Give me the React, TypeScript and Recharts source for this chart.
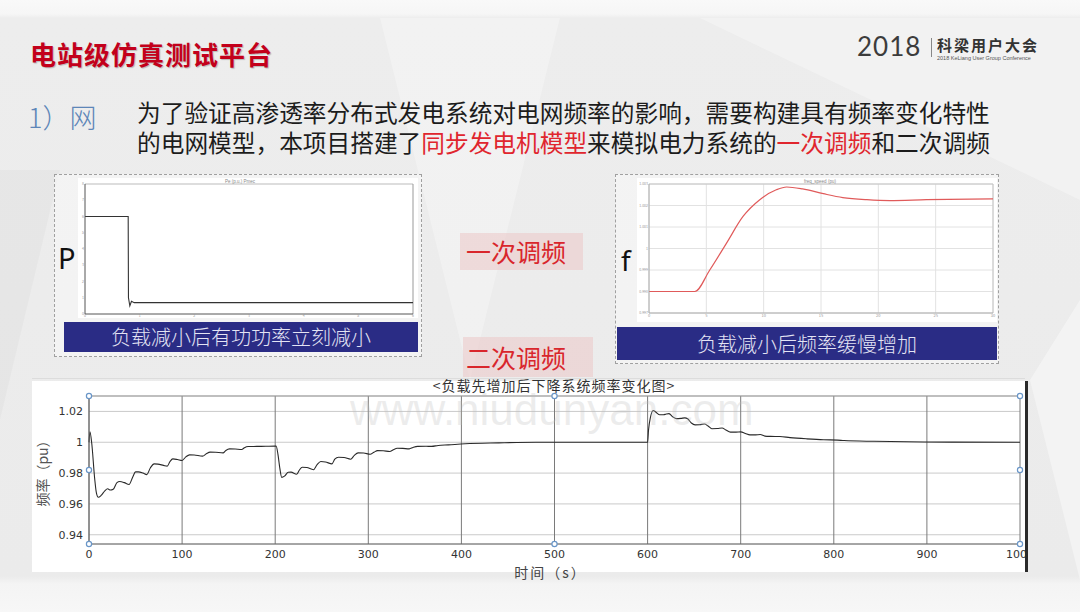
import React from 'react';
import { LineChart, Line, XAxis, YAxis, CartesianGrid, ReferenceLine, ReferenceDot } from 'recharts';

// ---- main chart: frequency (pu) vs time (s) ----
const timeA = [0, 1, 3, 6, 8, 10, 13, 17, 20, 23, 26, 30, 33, 38, 43, 47, 50, 53, 58, 62, 66, 70, 74, 80, 84, 87, 90, 95, 100, 104, 108, 113, 122, 126, 130, 136, 144, 147, 151, 157, 164, 167, 171, 180, 190, 200];
const freqA = [1.0, 1.0068, 0.999, 0.977, 0.967, 0.9643, 0.9655, 0.9685, 0.9698, 0.969, 0.9695, 0.9738, 0.9745, 0.9738, 0.9726, 0.9775, 0.9808, 0.9808, 0.98, 0.979, 0.9835, 0.986, 0.9858, 0.985, 0.9845, 0.9875, 0.9892, 0.9888, 0.9882, 0.9905, 0.9918, 0.9917, 0.991, 0.9925, 0.9936, 0.9935, 0.9931, 0.9947, 0.9957, 0.9956, 0.9953, 0.9965, 0.9972, 0.9973, 0.9974, 0.9975];
const timeB = [201, 203, 205, 207, 210, 214, 217, 223, 226, 229, 234, 241, 245, 249, 254, 261, 264, 268, 274, 281, 285, 289, 295, 302, 306, 310, 316, 323, 327, 331, 337, 344, 348, 353, 362, 368, 375, 386, 404, 440, 480, 600];
const freqB = [0.9975, 0.992, 0.983, 0.9772, 0.978, 0.9805, 0.9806, 0.9792, 0.982, 0.9838, 0.9836, 0.9822, 0.9855, 0.9875, 0.9872, 0.986, 0.989, 0.9903, 0.9901, 0.989, 0.9915, 0.9931, 0.993, 0.9922, 0.9935, 0.9946, 0.9945, 0.994, 0.9952, 0.9961, 0.996, 0.9957, 0.9966, 0.9973, 0.9974, 0.9973, 0.9979, 0.9983, 0.999, 0.9996, 1.0, 1.0];
const timeC = [601, 603, 606, 609, 613, 617, 620, 623, 627, 631, 636, 640, 643, 647, 651, 656, 661, 665, 669, 675, 680, 684, 689, 695, 700, 705, 710, 716, 721, 726, 732, 742, 753, 771, 789, 804, 811, 843, 897, 1000];
const freqC = [1.008, 1.016, 1.0206, 1.0195, 1.0178, 1.0178, 1.0183, 1.0186, 1.0165, 1.0153, 1.0155, 1.0158, 1.0152, 1.0125, 1.0113, 1.0114, 1.0118, 1.0105, 1.0088, 1.0089, 1.0092, 1.008, 1.0066, 1.0066, 1.0067, 1.0057, 1.0048, 1.0048, 1.005, 1.004, 1.0038, 1.0037, 1.003, 1.0022, 1.0016, 1.0014, 1.0011, 1.0006, 1.0002, 1.0];
const mainTicksX = [0, 100, 200, 300, 400, 500, 600, 700, 800, 900, 1000];
const mainTicksY = [0.94, 0.96, 0.98, 1, 1.02];
const mainDomainY = [0.934, 1.03];
const handleXs = [0, 500, 1000];
const handleYs = [1.03, 0.982, 0.934];

// ---- small chart P (active power) ----
const pTime = [0, 0.79, 0.795, 0.82, 0.85, 0.9, 6];
const pValue = [6, 6, 1.0, 0.5, 0.78, 0.7, 0.7];
const pTicksX = [0, 1, 2, 3, 4, 5, 6];
const pTicksY = [0, 1, 2, 3, 4, 5, 6, 7, 8];

// ---- small chart f (frequency) ----
const fTime = [0, 4, 5.3, 6.75, 8.2, 9.66, 11.1, 12, 13.4, 15.2, 16.9, 19, 21, 24.2, 30];
const fValue = [0.998, 0.998, 0.999, 1.00024, 1.00149, 1.00227, 1.00273, 1.00286, 1.00277, 1.00255, 1.00237, 1.00227, 1.00223, 1.00227, 1.00231];
const fTicksX = [0, 5, 10, 15, 20, 25, 30];
const fTicksY = [0.997, 0.998, 0.999, 1.0, 1.001, 1.002, 1.003];

const mainData = [...timeA.map((t, i) => ({ t, f: freqA[i] })), ...timeB.map((t, i) => ({ t, f: freqB[i] })), ...timeC.map((t, i) => ({ t, f: freqC[i] }))];
const pData = pTime.map((x, i) => ({ x, v: pValue[i] }));
const fData = fTime.map((x, i) => ({ x, v: fValue[i] }));

const handles: { x: number; y: number }[] = [];
handleXs.forEach((x) => handleYs.forEach((y) => { if (!(x === 500 && y === 0.982)) handles.push({ x, y }); }));

const CJK = '"Noto Sans CJK SC", "Noto Sans", sans-serif';
const abs = (l: number, t: number, extra: React.CSSProperties = {}): React.CSSProperties => ({ position: 'absolute', left: l, top: t, ...extra });

export default function App() {
  return (
    <div style={{ position: 'absolute', left: 0, top: 0, width: 1080, height: 612, overflow: 'hidden', fontFamily: CJK,
      background: 'linear-gradient(180deg, #f9f9f9 0px, #f6f6f6 14px, #ededed 18px, #ebebeb 576px, #f4f4f4 584px, #f7f7f7 612px)' }}>
      {/* background facets */}
      <div style={abs(0, 0, { width: 1080, height: 612, background: 'rgba(255,255,255,0.28)', clipPath: 'polygon(380px 18px, 560px 18px, 470px 380px)' })} />
      <div style={abs(0, 0, { width: 1080, height: 612, background: 'rgba(255,255,255,0.3)', clipPath: 'polygon(700px 18px, 1080px 18px, 1080px 200px)' })} />
      <div style={abs(0, 0, { width: 1080, height: 612, background: 'rgba(0,0,0,0.025)', clipPath: 'polygon(0px 170px, 60px 170px, 0px 420px)' })} />
      <div style={abs(0, 0, { width: 1080, height: 612, background: 'rgba(255,255,255,0.4)', clipPath: 'polygon(1030px 380px, 1080px 300px, 1080px 580px)' })} />

      {/* header */}
      <div style={abs(30, 38, { fontSize: 26, fontWeight: 700, color: '#c3001b', letterSpacing: 1, lineHeight: '32px', whiteSpace: 'nowrap', textShadow: '1px 1px 1px rgba(0,0,0,0.22)' })}>电站级仿真测试平台</div>
      <div style={abs(857, 32, { fontSize: 26, fontFamily: 'Lato, "Open Sans", sans-serif', fontWeight: 400, letterSpacing: 1, color: '#3c3c3c', lineHeight: '28px' })}>2018</div>
      <div style={abs(931, 38, { width: 1, height: 19, background: '#888' })} />
      <div style={abs(937, 37, { fontSize: 15, fontWeight: 700, letterSpacing: 2, color: '#333', lineHeight: '16px', whiteSpace: 'nowrap' })}>科梁用户大会</div>
      <div style={abs(937, 55, { fontSize: 5.5, color: '#555', lineHeight: '6px', whiteSpace: 'nowrap', fontFamily: '"Liberation Sans", sans-serif' })}>2018 KeLiang User Group Conference</div>

      <div style={abs(28, 101, { fontSize: 27, color: '#5d86b8', lineHeight: '32px', whiteSpace: 'nowrap', fontWeight: 300 })}>1）网</div>
      <div style={abs(137, 97, { fontSize: 23.7, color: '#1c1c1c', lineHeight: '30px', whiteSpace: 'nowrap' })}>
        <div style={{ height: 30 }}>为了验证高渗透率分布式发电系统对电网频率的影响，需要构建具有频率变化特性</div>
        <div style={{ height: 30 }}>的电网模型，本项目搭建了<span style={{ color: '#e0262e' }}>同步发电机模型</span>来模拟电力系统的<span style={{ color: '#e0262e' }}>一次调频</span>和二次调频</div>
      </div>

      {/* left small panel */}
      <div style={abs(54, 174, { width: 366, height: 181, border: '1px dashed #a0a0a0', background: 'rgba(248,248,248,0.6)' })} />
      <div style={abs(78, 178, { width: 340, height: 140, background: '#fff' })}>
        <LineChart width={340} height={140} data={pData} margin={{ top: 6, right: 5, bottom: 0, left: 0 }}>
          <XAxis dataKey="x" type="number" domain={[0, 6]} ticks={pTicksX} interval={0} height={4} tickSize={0} tickMargin={1}
            tick={{ fontSize: 3.5, fill: '#999' }} axisLine={{ stroke: '#555' }} />
          <YAxis type="number" domain={[0, 8]} ticks={pTicksY} interval={0} width={7} tickSize={0} tickMargin={1}
            tick={{ fontSize: 3.5, fill: '#999' }} axisLine={{ stroke: '#555' }} />
          <ReferenceLine y={8} stroke="#bbb" />
          <ReferenceLine x={6} stroke="#999" />
          <Line type="linear" dataKey="v" stroke="#333" strokeWidth={1.1} dot={false} isAnimationActive={false} />
        </LineChart>
      </div>
      <div style={abs(200, 179, { width: 80, textAlign: 'center', fontSize: 4.5, color: '#888', lineHeight: '5px', whiteSpace: 'nowrap', fontFamily: '"Liberation Sans", sans-serif' })}>Pe (p.u.) Pmec</div>
      <div style={abs(58, 240, { fontSize: 29, fontFamily: '"Noto Sans", sans-serif', color: '#111', lineHeight: '36px' })}>P</div>
      <div style={abs(64, 322, { width: 354, height: 30, background: '#2a2c85', color: '#e4e4f4', fontSize: 20, lineHeight: '30px', textAlign: 'center', whiteSpace: 'nowrap', fontWeight: 300 })}>负载减小后有功功率立刻减小</div>

      {/* right small panel */}
      <div style={abs(615, 174, { width: 382, height: 188, border: '1px dashed #a0a0a0', background: 'rgba(248,248,248,0.6)' })} />
      <div style={abs(637, 178, { width: 360, height: 144, background: '#fff' })}>
        <LineChart width={360} height={144} data={fData} margin={{ top: 6, right: 4, bottom: 0, left: 0 }}>
          <CartesianGrid stroke="#e2e2e2" />
          <XAxis dataKey="x" type="number" domain={[0, 30]} ticks={fTicksX} interval={0} height={9} tickSize={0} tickMargin={1}
            tick={{ fontSize: 4, fill: '#999' }} axisLine={{ stroke: '#aaa' }} />
          <YAxis type="number" domain={[0.997, 1.003]} ticks={fTicksY} interval={0} width={12} tickSize={0} tickMargin={1}
            tick={{ fontSize: 3.5, fill: '#999' }} axisLine={{ stroke: '#aaa' }} />
          <ReferenceLine y={1.003} stroke="#c4c4c4" />
          <ReferenceLine x={30} stroke="#c4c4c4" />
          <Line type="monotone" dataKey="v" stroke="#e05a5a" strokeWidth={1.2} dot={false} isAnimationActive={false} />
        </LineChart>
      </div>
      <div style={abs(780, 179, { width: 80, textAlign: 'center', fontSize: 4.5, color: '#888', lineHeight: '5px', whiteSpace: 'nowrap', fontFamily: '"Liberation Sans", sans-serif' })}>freq_speed (pu)</div>
      <div style={abs(621, 242, { fontSize: 28, fontFamily: '"Noto Sans", sans-serif', color: '#111', lineHeight: '36px' })}>f</div>
      <div style={abs(617, 327, { width: 380, height: 33, background: '#2a2c85', color: '#e4e4f4', fontSize: 20, lineHeight: '33px', textAlign: 'center', whiteSpace: 'nowrap', fontWeight: 300 })}>负载减小后频率缓慢增加</div>

      {/* centre labels */}
      <div style={abs(460, 233, { width: 123, height: 37, background: 'rgba(236,196,196,0.5)' })} />
      <div style={abs(466, 233, { fontSize: 25, color: '#d9262c', lineHeight: '37px', whiteSpace: 'nowrap' })}>一次调频</div>
      <div style={abs(463, 337, { width: 130, height: 40, background: 'rgba(236,196,196,0.5)' })} />
      <div style={abs(466, 342, { fontSize: 25, color: '#d9262c', lineHeight: '30px', whiteSpace: 'nowrap' })}>二次调频</div>

      {/* main chart */}
      <div style={abs(32, 378, { width: 993, height: 1, background: '#dcdcdc' })} />
      <div style={abs(32, 381, { width: 993, height: 191, background: '#fff' })} />
      <div style={abs(32, 381, { width: 993, height: 200 })}>
        <LineChart width={993} height={200} data={mainData} margin={{ top: 15, right: 5, bottom: 0, left: 0 }}>
          <CartesianGrid yAxisId="l" vertical={false} stroke="#cacaca" />
          <CartesianGrid yAxisId="l" horizontal={false} stroke="#7a7a7a" />
          <XAxis dataKey="t" type="number" domain={[0, 1000]} ticks={mainTicksX} interval={0} height={37} tickSize={0} tickMargin={6}
            tick={{ fontSize: 11, fill: '#333', fontFamily: '"DejaVu Sans", sans-serif' }} axisLine={{ stroke: '#666' }}
            label={{ value: '时间（s）', position: 'insideBottom', offset: 3, dx: -4, style: { fontSize: 14, fill: '#444', letterSpacing: 2, fontFamily: CJK } }} />
          <YAxis yAxisId="l" type="number" domain={mainDomainY} ticks={mainTicksY} interval={0} width={57} tickSize={0} tickMargin={6}
            allowDataOverflow tick={{ fontSize: 11, fill: '#333', fontFamily: '"DejaVu Sans", sans-serif' }} axisLine={{ stroke: '#666' }}
            label={{ value: '频率（pu）', angle: -90, position: 'insideLeft', offset: 11, style: { textAnchor: 'middle', fontSize: 14, fill: '#555', fontFamily: CJK } }} />
          <YAxis yAxisId="r" orientation="right" type="number" domain={mainDomainY} ticks={mainTicksY} interval={0} width={0} mirror
            allowDataOverflow tickSize={9} tickFormatter={() => ''} tickLine={{ stroke: '#555' }} axisLine={{ stroke: '#777' }} />
          <ReferenceLine yAxisId="l" y={1.03} stroke="#999" />
          <Line yAxisId="l" type="monotone" dataKey="f" stroke="#2a2a2a" strokeWidth={1.1} dot={false} isAnimationActive={false} />
          {handles.map((h, i) => (
            <ReferenceDot key={i} yAxisId="l" x={h.x} y={h.y} r={2.6} fill="#fff" stroke="#6a96c8" strokeWidth={1.2} ifOverflow="visible" />
          ))}
        </LineChart>
      </div>
      <div style={abs(354, 378, { width: 400, textAlign: 'center', fontSize: 14, letterSpacing: 1, color: '#333', lineHeight: '15px', whiteSpace: 'nowrap' })}>&lt;负载先增加后下降系统频率变化图&gt;</div>
      <div style={abs(1025, 381, { width: 3, height: 191, background: '#2a2a2a' })} />

      {/* watermark */}
      <div style={abs(350, 386, { fontSize: 44, color: 'rgba(190,190,190,0.28)', fontFamily: '"Liberation Sans", sans-serif', lineHeight: '48px', whiteSpace: 'nowrap', pointerEvents: 'none' })}>www.niudunyan.com</div>
    </div>
  );
}
